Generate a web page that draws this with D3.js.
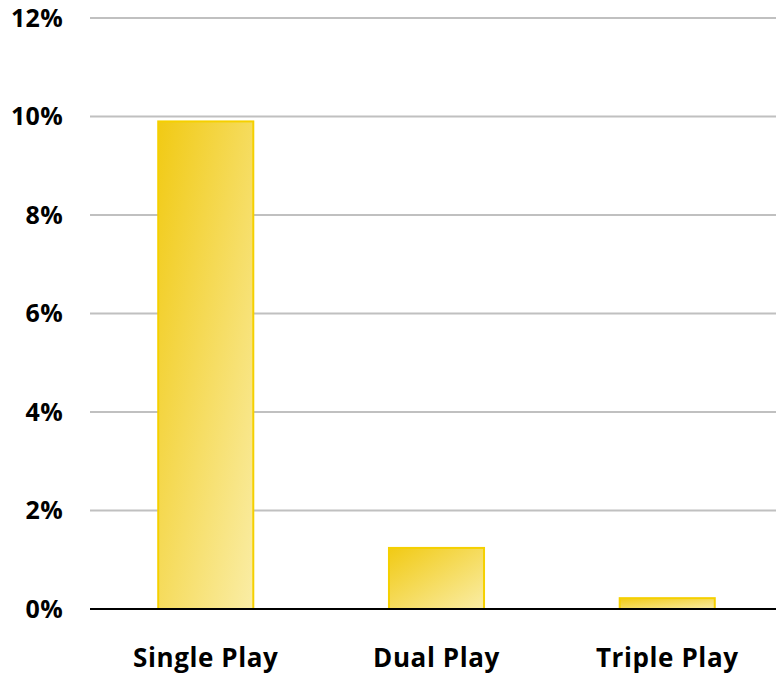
<!DOCTYPE html>
<html><head><meta charset="utf-8">
<script src="https://cdn.jsdelivr.net/npm/d3@7"></script>
<style>body{margin:0;background:#fff}svg{display:block}</style>
</head><body>
<script>
const categories = ["Single Play", "Dual Play", "Triple Play"];
const values = [9.9, 1.24, 0.22];
const yTicks = [0, 2, 4, 6, 8, 10, 12];

const W = 776, H = 675;
const m = {left: 90, right: 0, top: 18, bottom: 66};
const svg = d3.select("body").append("svg").attr("width", W).attr("height", H);
const defs = svg.append("defs");
const g1 = defs.append("linearGradient").attr("id", "bg")
  .attr("x1", "0%").attr("y1", "0%").attr("x2", "100%").attr("y2", "100%");
g1.append("stop").attr("offset", "0%").attr("stop-color", "#f1ca14");
g1.append("stop").attr("offset", "100%").attr("stop-color", "#faeda6");

const x = d3.scaleBand().domain(categories).range([89, 784]).paddingInner(0.588).paddingOuter(0.3);
const y = d3.scaleLinear().domain([0, 12]).range([H - m.bottom, m.top]);

const font = "'Open Sans', 'Liberation Sans', sans-serif";

// gridlines
svg.append("g").selectAll("line").data(yTicks.filter(t => t > 0)).join("line")
  .attr("x1", m.left).attr("x2", W).attr("y1", d => y(d)).attr("y2", d => y(d))
  .attr("stroke", "#c0c0c0").attr("stroke-width", 2);

// y axis labels
const yAxis = d3.axisLeft(y).tickValues(yTicks).tickFormat(d => d + "%").tickSize(0).tickPadding(27);
const ya = svg.append("g").attr("transform", `translate(${m.left},0)`).call(yAxis);
ya.select(".domain").remove();
ya.selectAll("text").attr("font-family", font).attr("font-weight", "bold").attr("font-size", 25)
  .attr("letter-spacing", 0.3).attr("fill", "#000");

// bars
svg.append("g").selectAll("rect").data(values).join("rect")
  .attr("x", (d, i) => x(categories[i]))
  .attr("width", x.bandwidth())
  .attr("y", d => y(d))
  .attr("height", d => y(0) - y(d))
  .attr("fill", "url(#bg)")
  .attr("stroke", "#f5d000").attr("stroke-width", 2);

// x axis
const xAxis = d3.axisBottom(x).tickSize(0).tickPadding(40);
const xa = svg.append("g").attr("transform", `translate(0,${y(0)})`).call(xAxis);
xa.select(".domain").remove();
svg.append("line").attr("x1", m.left).attr("x2", W).attr("y1", y(0)).attr("y2", y(0))
  .attr("stroke", "#000").attr("stroke-width", 2);
xa.selectAll("text").attr("font-family", font).attr("font-weight", "bold").attr("font-size", 26)
  .attr("letter-spacing", 0.6).attr("fill", "#000");
</script>
</body></html>
